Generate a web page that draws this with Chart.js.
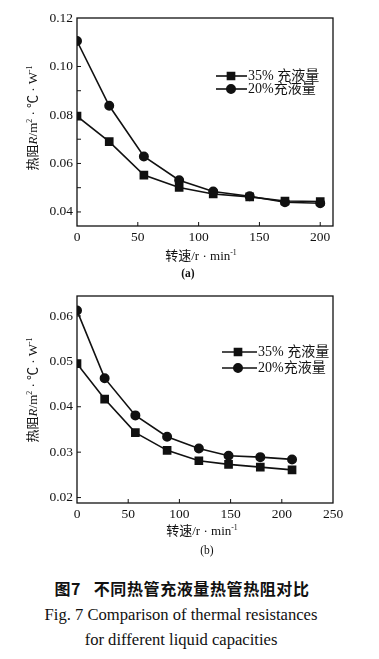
<!DOCTYPE html>
<html><head><meta charset="utf-8">
<script src="https://cdn.jsdelivr.net/npm/chart.js@4"></script>
<style>
body{margin:0;width:379px;height:659px;background:#fff;position:relative;overflow:hidden;font-family:"Liberation Serif","Noto Sans CJK SC",serif;color:#111}
canvas{position:absolute;left:0}
.t{position:absolute;white-space:nowrap;transform:translate(-50%,-50%);line-height:1}
.yt{position:absolute;white-space:nowrap;transform:translate(-50%,-50%) rotate(-90deg);line-height:1}
.cjk{font-family:"Noto Sans CJK SC",sans-serif}
sup{font-size:0.6em;vertical-align:0.6em;line-height:0}
</style></head><body>
<canvas id="ca" width="379" height="250" style="top:0"></canvas>
<canvas id="cb" width="379" height="250" style="top:280px"></canvas>

<div class="yt" style="left:32px;top:118px;font-size:13px"><span class="cjk">热阻</span><i>R</i>/m<sup>2</sup> · ℃ · W<sup>-1</sup></div>
<div class="t" style="left:201px;top:255px;font-size:13px"><span class="cjk">转速</span>/r · min<sup>-1</sup></div>
<div class="t" style="left:188px;top:274px;font-size:11.5px;font-weight:bold">(a)</div>

<div class="yt" style="left:32px;top:390px;font-size:13px"><span class="cjk">热阻</span><i>R</i>/m<sup>2</sup> · ℃ · W<sup>-1</sup></div>
<div class="t" style="left:202px;top:530px;font-size:13px"><span class="cjk">转速</span>/r · min<sup>-1</sup></div>
<div class="t" style="left:207px;top:551px;font-size:11.5px">(b)</div>

<div class="t cjk" style="left:182px;top:588px;font-size:16px;font-weight:bold;letter-spacing:0.6px">图7&nbsp;&nbsp;&nbsp;不同热管充液量热管热阻对比</div>
<div class="t" style="left:181px;top:615px;font-size:16.6px">Fig. 7 Comparison of thermal resistances</div>
<div class="t" style="left:181px;top:640px;font-size:16.6px">for different liquid capacities</div>

<script>
// ---- data ----
const labels35 = "35% 充液量";
const labels20 = "20%充液量";
const speedA = [0, 26.5, 55, 84, 112, 142, 171, 200];
const r35A = [0.0795, 0.0690, 0.0552, 0.0501, 0.0474, 0.0462, 0.0445, 0.0443];
const r20A = [0.1105, 0.0838, 0.0629, 0.0531, 0.0484, 0.0465, 0.0440, 0.0436];
const speedB = [0, 27, 57, 88, 119, 148, 179, 210];
const r35B = [0.0495, 0.0417, 0.0343, 0.0304, 0.0281, 0.0273, 0.0267, 0.0261];
const r20B = [0.0612, 0.0463, 0.0381, 0.0334, 0.0308, 0.0292, 0.0289, 0.0284];
const xTicksA = [0, 50, 100, 150, 200];
const yLabelsA = [0.04, 0.06, 0.08, 0.10, 0.12];
const yMinorA = [0.04, 0.05, 0.06, 0.07, 0.08, 0.09, 0.10, 0.11, 0.12];
const xTicksB = [0, 50, 100, 150, 200, 250];
const yLabelsB = [0.02, 0.03, 0.04, 0.05, 0.06];
const yMinorB = [0.02, 0.03, 0.04, 0.05, 0.06];

const FONT = {family: '"Liberation Serif","Noto Sans CJK SC",serif', size: 13.5};
const INK = '#111';

const framePlugin = {
  id: 'frame',
  afterDatasetsDraw(chart, args, o) {
    const {ctx, chartArea: a, scales} = chart;
    ctx.save();
    ctx.strokeStyle = INK; ctx.lineWidth = 1.3;
    ctx.strokeRect(a.left, a.top, a.right - a.left, a.bottom - a.top);
    ctx.lineWidth = 1;
    o.xt.forEach(v => { const x = scales.x.getPixelForValue(v); if (x > a.left + 1 && x < a.right - 1) { ctx.beginPath(); ctx.moveTo(x, a.bottom); ctx.lineTo(x, a.bottom - 4); ctx.stroke(); } });
    o.ym.forEach(v => { const y = scales.y.getPixelForValue(v); if (y > a.top + 1 && y < a.bottom - 1) { ctx.beginPath(); ctx.moveTo(a.left, y); ctx.lineTo(a.left + 4, y); ctx.stroke(); } });
    // legend
    const L = o.legend;
    chart.data.datasets.forEach((ds, i) => {
      const y = L.ys[i];
      ctx.strokeStyle = INK; ctx.lineWidth = 1.6;
      ctx.beginPath(); ctx.moveTo(L.x0, y); ctx.lineTo(L.x1, y); ctx.stroke();
      ctx.fillStyle = INK;
      Chart.helpers.drawPoint(ctx, {pointStyle: ds.pointStyle, radius: ds.pointRadius, borderWidth: 1}, L.mx, y);
      ctx.fillStyle = INK; ctx.font = '14px "Liberation Serif","Noto Sans CJK SC",serif';
      ctx.textBaseline = 'middle'; ctx.textAlign = 'left';
      ctx.fillText(ds.label, L.tx, y + 0.5);
    });
    ctx.restore();
  }
};

function makeChart(id, xs, s35, s20, xMin, xMax, yMin, yMax, xt, yl, ym, padTop, xH, legend) {
  const mk = (label, ys, style, r) => ({
    label, data: xs.map((x, i) => ({x, y: ys[i]})), borderColor: INK, backgroundColor: INK,
    borderWidth: 1.6, pointStyle: style, pointRadius: r, pointHoverRadius: r, tension: 0, fill: false, showLine: true
  });
  const el = document.getElementById(id);
  return new Chart(el, {
    type: 'scatter',
    data: {datasets: [mk(labels35, s35, 'rect', 5), mk(labels20, s20, 'circle', 4.2)]},
    options: {
      responsive: false, animation: false, devicePixelRatio: 1,
      layout: {padding: {left: 0, right: 46, top: padTop, bottom: 0}},
      plugins: {legend: {display: false}, tooltip: {enabled: false}, frame: {xt, ym, legend}},
      scales: {
        x: {type: 'linear', min: xMin, max: xMax, border: {display: false},
            grid: {display: false, drawTicks: false, tickLength: 0},
            afterBuildTicks: s => { s.ticks = xt.map(v => ({value: v})); },
            afterFit: s => { s.height = xH; },
            ticks: {font: FONT, color: INK, padding: 3, maxRotation: 0, callback: v => String(v)}},
        y: {type: 'linear', min: yMin, max: yMax, border: {display: false},
            grid: {display: false, drawTicks: false, tickLength: 0},
            afterBuildTicks: s => { s.ticks = yl.map(v => ({value: v})); },
            afterFit: s => { s.width = 77; },
            ticks: {font: FONT, color: INK, padding: 4, callback: v => v.toFixed(2)}}
      }
    },
    plugins: [framePlugin]
  });
}

makeChart('ca', speedA, r35A, r20A, 0, 210.5, 0.0342, 0.12, xTicksA, yLabelsA, yMinorA, 18, 24,
  {x0: 216, x1: 247, mx: 231, tx: 248, ys: [76, 89]});
makeChart('cb', speedB, r35B, r20B, 0, 250, 0.0188, 0.0644, xTicksB, yLabelsB, yMinorB, 16, 27,
  {x0: 222, x1: 257, mx: 238, tx: 258, ys: [72, 88]});
</script>
</body></html>
